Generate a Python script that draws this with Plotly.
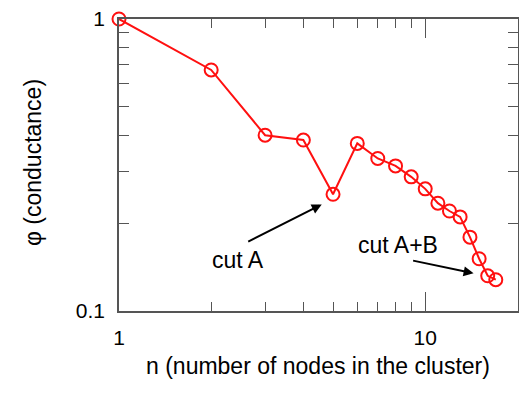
import plotly.graph_objects as go

n_nodes = [1, 2, 3, 4, 5, 6, 7, 8, 9, 10, 11, 12, 13, 14, 15, 16, 17]
conductance = [1.0, 0.669, 0.40, 0.385, 0.251, 0.375, 0.333, 0.314, 0.288,
               0.262, 0.234, 0.220, 0.210, 0.179, 0.151, 0.132, 0.128]

x_major = [1, 10]
x_minor = [2, 3, 4, 5, 6, 7, 8, 9, 20]
y_major = [0.1, 1]
y_minor = [0.2, 0.3, 0.4, 0.5, 0.6, 0.7, 0.8, 0.9]

FONT = "Liberation Sans, Arial, Helvetica, sans-serif"
AX = "#555555"
RED = "#ff1010"

fig = go.Figure()
fig.add_trace(go.Scatter(
    x=n_nodes, y=conductance, mode="lines+markers",
    line=dict(color=RED, width=2),
    marker=dict(symbol="circle-open", size=13, color=RED, line=dict(width=2)),
    cliponaxis=False, showlegend=False,
))

fig.update_layout(
    width=519, height=393,
    margin=dict(l=119, r=1, t=19, b=82),
    paper_bgcolor="white", plot_bgcolor="white",
    font=dict(family=FONT, size=21, color="black"),
    xaxis=dict(type="log", range=[0, 1.303], tickvals=x_major, ticktext=["1", "10"],
               ticks="inside", ticklen=19, tickcolor=AX, tickwidth=1,
               showline=True, linecolor=AX, linewidth=1.5, mirror="ticks",
               showgrid=False, zeroline=False, automargin=False,
               ticklabelstandoff=7,
               minor=dict(tickvals=x_minor, ticks="inside", ticklen=9, tickcolor=AX, showgrid=False),
               tickfont=dict(size=21)),
    yaxis=dict(type="log", range=[-1, 0], tickvals=y_major, ticktext=["0.1", "1"],
               ticks="inside", ticklen=10, tickcolor=AX, tickwidth=1,
               showline=True, linecolor=AX, linewidth=1.5, mirror="ticks",
               showgrid=False, zeroline=False, automargin=False,
               ticklabelstandoff=8,
               minor=dict(tickvals=y_minor, ticks="inside", ticklen=10, tickcolor=AX, showgrid=False),
               tickfont=dict(size=21)),
)

# axis titles
fig.add_annotation(text="n (number of nodes in the cluster)", xref="paper", yref="paper",
                   x=(317.5 - 119) / 399, y=(311 - 366) / 292, showarrow=False,
                   font=dict(size=23), xanchor="center", yanchor="middle")
fig.add_annotation(text="φ (conductance)", xref="paper", yref="paper",
                   x=(33 - 119) / 399, y=(311 - 163) / 292, showarrow=False,
                   textangle=-90, font=dict(size=23), xanchor="center", yanchor="middle")

# cut A label + arrow (axis units are log10 on log axes)
fig.add_annotation(x=0.662, y=-0.635, xref="x", yref="y", text="", showarrow=True,
                   arrowhead=2, arrowsize=1, arrowwidth=2, arrowcolor="black",
                   axref="pixel", ayref="pixel", ax=-75, ay=38, standoff=0)
fig.add_annotation(text="cut A", x=0.387, y=-0.825, xref="x", yref="y",
                   showarrow=False, font=dict(size=23, color="black"),
                   xanchor="center", yanchor="middle")
# cut A+B label + arrow
fig.add_annotation(x=1.158, y=-0.871, xref="x", yref="y", text="", showarrow=True,
                   arrowhead=2, arrowsize=1, arrowwidth=2, arrowcolor="black",
                   axref="pixel", ayref="pixel", ax=-62, ay=-13, standoff=0)
fig.add_annotation(text="cut A+B", x=0.911, y=-0.774, xref="x", yref="y",
                   showarrow=False, font=dict(size=23, color="black"),
                   xanchor="center", yanchor="middle")

fig.write_html("out.html", config={"displayModeBar": False},
               post_script="document.body.style.margin='0';document.body.style.padding='0';")
